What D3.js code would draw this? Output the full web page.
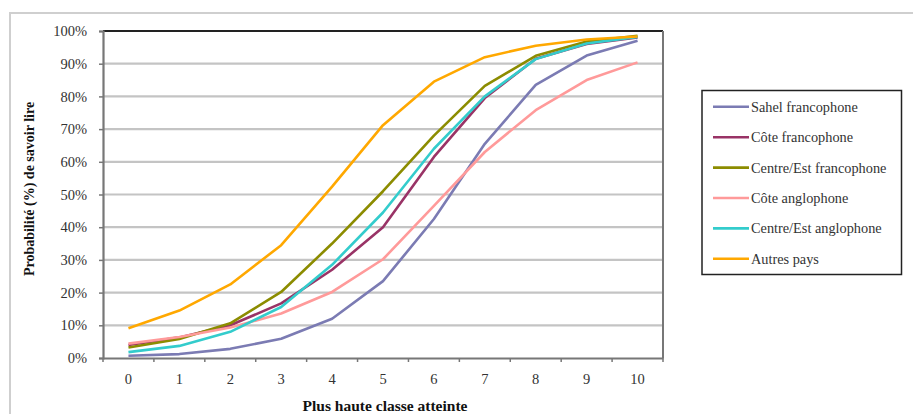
<!DOCTYPE html>
<html><head><meta charset="utf-8">
<script src="https://cdn.jsdelivr.net/npm/d3@7"></script>
<style>
html,body{margin:0;padding:0;background:#fff;}
svg{display:block;}
</style></head>
<body>
<svg id="c" width="913" height="414"></svg>
<script>
const categories = [0,1,2,3,4,5,6,7,8,9,10];
const seriesNames = ["Sahel francophone","Côte francophone","Centre/Est francophone","Côte anglophone","Centre/Est anglophone","Autres pays"];
const sahelFranco   = [0.7, 1.2, 2.8, 5.9, 12, 23.5, 42.5, 65.5, 83.5, 92.5, 97];
const coteFranco    = [4, 6.3, 10, 16.7, 27, 40, 61.5, 79.5, 91.5, 96, 98];
const centreFranco  = [3.2, 5.8, 10.6, 20.2, 35, 51, 68, 83.2, 92.4, 96.8, 98.5];
const coteAnglo     = [4.4, 6.4, 9.3, 13.6, 20.2, 30.2, 46.5, 63, 75.8, 85, 90.4];
const centreAnglo   = [1.8, 3.7, 8, 15.6, 28.5, 44.5, 64, 80, 91.4, 96.2, 98.2];
const autresPays    = [9.1, 14.5, 22.5, 34.5, 52.4, 71.2, 84.5, 92, 95.5, 97.4, 98.3];
const yTicks = [0,10,20,30,40,50,60,70,80,90,100];
const colors = ["#7b7bb3","#993366","#8c8c00","#ff9a9a","#33cccc","#ffa800"];
const allSeries = [sahelFranco, coteFranco, centreFranco, coteAnglo, centreAnglo, autresPays];
const FONT = "'Liberation Serif', 'Times New Roman', serif";

const svg = d3.select("#c");
// outer frame
svg.append("rect").attr("x",10).attr("y",13).attr("width",1000).attr("height",600)
  .attr("fill","none").attr("stroke","#cfcfcf").attr("stroke-width",2);

const L=103, R=663, T=31, B=358;
const x = d3.scaleBand().domain(categories).range([L,R]);
const y = d3.scaleLinear().domain([0,100]).range([B,T]);

// gridlines
svg.append("g").selectAll("line").data(yTicks.filter(d=>d>0&&d<100)).join("line")
  .attr("x1",L).attr("x2",R).attr("y1",d=>y(d)).attr("y2",d=>y(d))
  .attr("stroke","#c4c4c4").attr("stroke-width",2.2);

// plot border
svg.append("line").attr("x1",L).attr("x2",R).attr("y1",T).attr("y2",T).attr("stroke","#222").attr("stroke-width",2);
svg.append("line").attr("x1",R).attr("x2",R).attr("y1",T).attr("y2",B).attr("stroke","#777").attr("stroke-width",2);

// y axis
const yAxis = svg.append("g").attr("transform",`translate(${L},0)`)
  .call(d3.axisLeft(y).tickValues(yTicks).tickFormat(d=>d+"%").tickSize(4).tickPadding(12));
yAxis.select(".domain").attr("stroke","#777").attr("stroke-width",2.2);
yAxis.selectAll(".tick line").attr("stroke","#777").attr("stroke-width",1.5);
yAxis.selectAll(".tick text").style("font-family",FONT).style("font-size","14.5px").attr("fill","#333");

// x axis
const xAxis = svg.append("g").attr("transform",`translate(0,${B})`)
  .call(d3.axisBottom(x).tickSize(0).tickPadding(16));
xAxis.select(".domain").attr("stroke","#777").attr("stroke-width",2.2);
xAxis.selectAll(".tick text").style("font-family",FONT).style("font-size","14.5px").attr("fill","#333");
// tick marks at band boundaries
const bounds = categories.map(c=>x(c)).concat([R]);
svg.append("g").selectAll("line").data(bounds).join("line")
  .attr("x1",d=>d).attr("x2",d=>d).attr("y1",B).attr("y2",B+4)
  .attr("stroke","#777").attr("stroke-width",1.5);

// lines
const line = d3.line().x((d,i)=>x(categories[i])+x.bandwidth()/2).y(d=>y(d));
svg.append("g").selectAll("path").data(allSeries).join("path")
  .attr("d",d=>line(d)).attr("fill","none")
  .attr("stroke",(d,i)=>colors[i]).attr("stroke-width",2.6).attr("stroke-linejoin","round");

// axis titles
svg.append("text").attr("x",385).attr("y",411).attr("text-anchor","middle")
  .style("font-family",FONT).style("font-weight","bold").style("font-size","15.5px").attr("fill","#111").text("Plus haute classe atteinte");
svg.append("text").attr("transform","translate(34,189) rotate(-90)").attr("text-anchor","middle")
  .style("font-family",FONT).style("font-weight","bold").style("font-size","14px").attr("fill","#111").text("Probabilité (%) de savoir lire");

// legend
const lg = svg.append("g");
lg.append("rect").attr("x",702).attr("y",90.5).attr("width",199.5).attr("height",184)
  .attr("fill","#fff").attr("stroke","#222").attr("stroke-width",1.5);
const items = lg.selectAll("g").data(seriesNames).join("g")
  .attr("transform",(d,i)=>`translate(0,${106.8+i*30.4})`);
items.append("line").attr("x1",713).attr("x2",749).attr("y1",0).attr("y2",0)
  .attr("stroke",(d,i)=>colors[i]).attr("stroke-width",2.6);
items.append("text").attr("x",751).attr("y",5)
  .style("font-family",FONT).style("font-size","14.3px").attr("fill","#333").text(d=>d);
</script>
</body></html>
